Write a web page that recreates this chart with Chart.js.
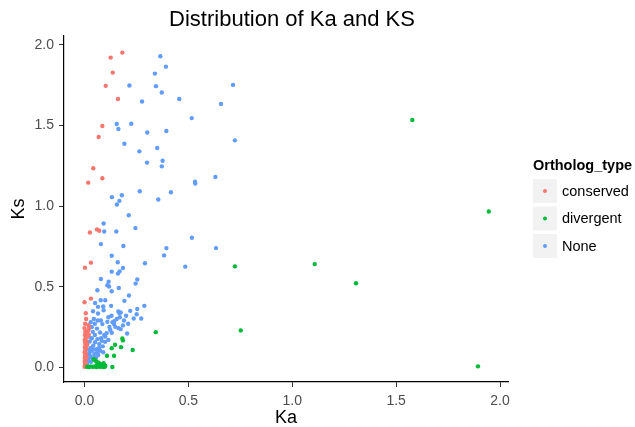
<!DOCTYPE html>
<html>
<head>
<meta charset="utf-8">
<script src="https://cdn.jsdelivr.net/npm/chart.js@4.4.0/dist/chart.umd.min.js"></script>
<style>
  html, body { margin: 0; padding: 0; background: #ffffff; }
</style>
</head>
<body>
<canvas id="kaksChart" width="635" height="427"></canvas>
<script>
// [Ka, Ks] pairs
const conservedPoints = [
  [0.182, 1.951], [0.126, 1.920], [0.136, 1.827], [0.102, 1.745], [0.161, 1.663], [0.086, 1.496], [0.068, 1.428],
  [0.042, 1.234], [0.086, 1.172], [0.018, 1.145], [0.060, 0.855], [0.071, 0.847], [0.026, 0.836],
  [0.031, 0.649], [0.002, 0.618], [0.031, 0.426], [0.000, 0.403], [0.006, 0.335], [0.020, 0.261], [0.022, 0.243],
  [0.000, 0.243], [0.004, 0.222], [0.012, 0.212], [0.002, 0.200], [0.016, 0.192], [0.006, 0.184], [0.001, 0.170],
  [0.010, 0.162], [0.003, 0.154], [0.013, 0.140], [0.005, 0.138], [0.002, 0.124], [0.008, 0.116], [0.004, 0.108],
  [0.001, 0.094], [0.006, 0.086], [0.003, 0.072], [0.009, 0.064], [0.002, 0.056], [0.005, 0.046], [0.001, 0.036],
  [0.004, 0.026], [0.007, 0.018], [0.002, 0.010], [0.001, 0.004], [0.018, 0.230], [0.020, 0.204], [0.008, 0.300],
  [0.003, 0.270]
];

const divergentPoints = [
  [1.578, 1.533], [1.946, 0.966], [1.108, 0.640], [0.724, 0.626], [1.307, 0.521], [0.752, 0.229], [0.343, 0.218],
  [1.894, 0.006], [0.182, 0.179], [0.185, 0.167], [0.147, 0.140], [0.131, 0.119], [0.176, 0.125], [0.232, 0.107],
  [0.108, 0.072], [0.142, 0.072], [0.134, 0.002], [0.012, 0.004], [0.022, 0.002], [0.031, 0.006], [0.040, 0.003],
  [0.049, 0.005], [0.058, 0.002], [0.066, 0.006], [0.074, 0.003], [0.082, 0.005], [0.090, 0.002], [0.098, 0.004],
  [0.086, 0.012], [0.094, 0.016], [0.100, 0.010], [0.092, 0.026], [0.078, 0.020], [0.068, 0.028], [0.058, 0.036],
  [0.050, 0.044], [0.044, 0.050], [0.062, 0.018], [0.072, 0.012]
];

const nonePoints = [
  [0.365, 1.928], [0.392, 1.864], [0.339, 1.821], [0.216, 1.747], [0.344, 1.743], [0.372, 1.704], [0.277, 1.648],
  [0.456, 1.663], [0.516, 1.545], [0.155, 1.508], [0.225, 1.510], [0.163, 1.477], [0.302, 1.456], [0.394, 1.465],
  [0.192, 1.386], [0.350, 1.360], [0.715, 1.751], [0.657, 1.633], [0.724, 1.407],
  [0.264, 1.339], [0.301, 1.269], [0.376, 1.281], [0.372, 1.246], [0.532, 1.150], [0.533, 1.140], [0.266, 1.092],
  [0.416, 1.085], [0.132, 1.055], [0.180, 1.067], [0.168, 1.032], [0.156, 1.009], [0.355, 1.040], [0.213, 0.943],
  [0.092, 0.892], [0.095, 0.842], [0.153, 0.842], [0.245, 0.863], [0.517, 0.803], [0.079, 0.764], [0.187, 0.752],
  [0.394, 0.739], [0.131, 0.692], [0.383, 0.694], [0.630, 1.180], [0.633, 0.739],
  [0.160, 0.651], [0.291, 0.645], [0.185, 0.616], [0.169, 0.595], [0.161, 0.581], [0.131, 0.593], [0.485, 0.624],
  [0.254, 0.544], [0.246, 0.519], [0.165, 0.492], [0.079, 0.548], [0.116, 0.531], [0.110, 0.509], [0.062, 0.478],
  [0.118, 0.501], [0.131, 0.472], [0.214, 0.445], [0.192, 0.412], [0.051, 0.399], [0.078, 0.416], [0.100, 0.416],
  [0.090, 0.377], [0.128, 0.381], [0.065, 0.375], [0.041, 0.348], [0.092, 0.354], [0.065, 0.334], [0.163, 0.346],
  [0.168, 0.336], [0.174, 0.340], [0.254, 0.362], [0.288, 0.381], [0.251, 0.329], [0.237, 0.303], [0.273, 0.303],
  [0.064, 0.290], [0.079, 0.290], [0.086, 0.268], [0.110, 0.282], [0.143, 0.286], [0.142, 0.268], [0.205, 0.210],
  [0.163, 0.243], [0.174, 0.237], [0.148, 0.251], [0.124, 0.231], [0.131, 0.214], [0.107, 0.212], [0.075, 0.216],
  [0.095, 0.200], [0.062, 0.175], [0.083, 0.164], [0.099, 0.158], [0.051, 0.155], [0.071, 0.144], [0.042, 0.134],
  [0.088, 0.130], [0.059, 0.113], [0.035, 0.103], [0.075, 0.103], [0.090, 0.093], [0.047, 0.082], [0.066, 0.076],
  [0.026, 0.072], [0.042, 0.056], [0.018, 0.051], [0.031, 0.035], [0.013, 0.020], [0.004, 0.010],
  [0.010, 0.050], [0.015, 0.080], [0.020, 0.110], [0.012, 0.140], [0.025, 0.160], [0.030, 0.120], [0.035, 0.180],
  [0.050, 0.200], [0.040, 0.220], [0.020, 0.190], [0.055, 0.060], [0.060, 0.090], [0.045, 0.110], [0.070, 0.120],
  [0.080, 0.180], [0.100, 0.190], [0.115, 0.170], [0.120, 0.250], [0.135, 0.280], [0.185, 0.260], [0.190, 0.290],
  [0.210, 0.270], [0.155, 0.300], [0.130, 0.320], [0.115, 0.310], [0.200, 0.320], [0.220, 0.350], [0.170, 0.310],
  [0.030, 0.280], [0.045, 0.300], [0.035, 0.250], [0.050, 0.270], [0.060, 0.240], [0.008, 0.030], [0.020, 0.040],
  [0.030, 0.065], [0.025, 0.095]
];

const seriesNames = ['conserved', 'divergent', 'None'];
const seriesColors = ['#F8766D', '#00BA38', '#619CFF'];
const xTicks = [0, 0.5, 1, 1.5, 2];
const yTicks = [0, 0.5, 1, 1.5, 2];

const FONT = '"Liberation Sans", Arial, Helvetica, sans-serif';

function toXY(list) {
  return list.map(p => ({ x: p[0], y: p[1] }));
}

// title and ggplot-style legend drawn on the canvas
const ggExtras = {
  id: 'ggExtras',
  afterDraw(chart) {
    const ctx = chart.ctx;
    ctx.save();
    ctx.fillStyle = '#000';
    ctx.font = '22px ' + FONT;
    ctx.textAlign = 'center';
    ctx.textBaseline = 'middle';
    ctx.fillText('Distribution of Ka and KS', 292, 20);

    ctx.textAlign = 'left';
    ctx.font = 'bold 14.5px ' + FONT;
    ctx.fillText('Ortholog_type', 533, 166);

    ctx.font = '14.5px ' + FONT;
    seriesNames.forEach((name, i) => {
      const top = 179 + i * 27.5;
      ctx.fillStyle = '#F2F2F2';
      ctx.fillRect(533, top, 24, 24);
      ctx.fillStyle = seriesColors[i];
      ctx.beginPath();
      ctx.arc(545, top + 12, 2, 0, Math.PI * 2);
      ctx.fill();
      ctx.fillStyle = '#000';
      ctx.fillText(name, 562, top + 12.5);
    });
    ctx.restore();
  }
};

const ctx = document.getElementById('kaksChart').getContext('2d');
new Chart(ctx, {
  type: 'scatter',
  data: {
    datasets: [
      { label: seriesNames[2], data: toXY(nonePoints), backgroundColor: seriesColors[2], order: 3 },
      { label: seriesNames[0], data: toXY(conservedPoints), backgroundColor: seriesColors[0], order: 2 },
      { label: seriesNames[1], data: toXY(divergentPoints), backgroundColor: seriesColors[1], order: 1 }
    ]
  },
  options: {
    responsive: false,
    animation: false,
    elements: { point: { radius: 2.2, borderWidth: 0, hoverRadius: 2.2 } },
    layout: { padding: { top: 36, right: 127, left: 0, bottom: 0 } },
    plugins: {
      legend: { display: false },
      title: { display: false },
      tooltip: { enabled: false }
    },
    scales: {
      x: {
        type: 'linear',
        min: -0.0987,
        max: 2.0385,
        afterFit: function(scale) { scale.height = 45; },
        afterBuildTicks: function(scale) { scale.ticks = xTicks.map(v => ({ value: v })); },
        grid: { drawOnChartArea: false, drawTicks: true, tickLength: 5, color: '#333' },
        border: { display: true, color: '#000', width: 1.2 },
        ticks: {
          padding: 6, color: '#4D4D4D', maxRotation: 0,
          font: { family: FONT, size: 14 },
          callback: v => v.toFixed(1)
        },
        title: { display: true, text: 'Ka', color: '#000', padding: 0, font: { family: FONT, size: 18, lineHeight: 1 } }
      },
      y: {
        type: 'linear',
        min: -0.091,
        max: 2.054,
        afterFit: function(scale) { scale.width = 64; },
        afterBuildTicks: function(scale) { scale.ticks = yTicks.map(v => ({ value: v })); },
        grid: { drawOnChartArea: false, drawTicks: true, tickLength: 5, color: '#333' },
        border: { display: true, color: '#000', width: 1.2 },
        ticks: {
          padding: 5, color: '#4D4D4D',
          font: { family: FONT, size: 14 },
          callback: v => v.toFixed(1)
        },
        title: { display: true, text: 'Ks', color: '#000', padding: { top: 10, bottom: 0 }, font: { family: FONT, size: 18, lineHeight: 1 } }
      }
    }
  },
  plugins: [ggExtras]
});
</script>
</body>
</html>
